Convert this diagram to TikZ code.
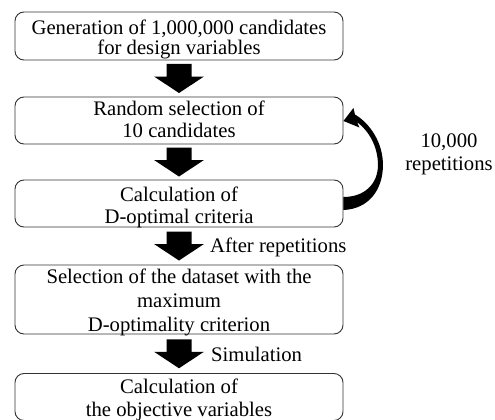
\documentclass[tikz,border=0pt]{standalone}
\usepackage{fontspec}
\setmainfont{Liberation Serif}
\usetikzlibrary{calc}
\newcommand\blockarrowdown[1]{\fill[black] #1 ++(-12.5,-14.5) -- ++(25,0) -- ++(0,12.5) -- ++(12.5,0) -- ++(-25,16.5) -- ++(-25,-16.5) -- ++(12.5,0) -- cycle;}
\begin{document}
\begin{tikzpicture}[x=1pt,y=-1pt,
  box/.style={draw=black!80, line width=0.9pt, rounded corners=9pt, minimum width=328pt, inner sep=0pt},
  txt/.style={anchor=base, inner sep=0pt, font=\fontsize{20.7}{24}\selectfont},
  lbl/.style={anchor=base west, inner sep=0pt, font=\fontsize{20.7}{24}\selectfont}]
\useasboundingbox (0,0) rectangle (495,420);
% boxes
\node[box, minimum height=48pt] (b1) at (179,36) {};
\node[box, minimum height=47pt] (b2) at (179,120.5) {};
\node[box, minimum height=47pt] (b3) at (179,203.5) {};
\node[box, minimum height=69pt] (b4) at (179,299.5) {};
\node[box, minimum height=47pt] (b5) at (179,397) {};
% texts
\node[txt] (t1a) at (179,35) {Generation of 1,000,000 candidates};
\node[txt] (t1b) at (179,55) {for design variables};
\node[txt] (t2a) at (179,115) {Random selection of};
\node[txt] (t2b) at (179,137.3) {10 candidates};
\node[txt] (t3a) at (179,201.7) {Calculation of};
\node[txt] (t3b) at (179,223.3) {D-optimal criteria};
\node[txt] (t4a) at (179,283.3) {Selection of the dataset with the};
\node[txt] (t4b) at (179,307.7) {maximum};
\node[txt] (t4c) at (179,331.7) {D-optimality criterion};
\node[txt] (t5a) at (179,393.3) {Calculation of};
\node[txt] (t5b) at (179,416.7) {the objective variables};
% block arrows
\blockarrowdown{($(b1.south)!0.5!(b2.north)$)}
\blockarrowdown{($(b2.south)!0.5!(b3.north)$)}
\blockarrowdown{($(b3.south)!0.5!(b4.north)$)}
\blockarrowdown{($(b4.south)!0.5!(b5.north)$)}
% labels
\node[lbl] (l3) at (210,252.3) {After repetitions};
\node[lbl] (l4) at (211,361.7) {Simulation};
\node[txt] (r1) at (449,147.3) {10,000};
\node[txt] (r2) at (449,170) {repetitions};
% curved loop arrow
\fill[black] ($(b3.east)+(0,6.5)$) .. controls ($(b3.east)+(25,5.5)$) and ($(b3.east)+(39.5,-13.5)$) .. ($(b3.east)+(39.5,-38.5)$)
  .. controls ($(b2.east)+(39.5,21.5)$) and ($(b2.east)+(26,2.5)$) .. ($(b2.east)+(11.5,-6)$)
  -- ($(b2.east)+(10,-12.5)$) -- ($(b2.east)+(0,0.5)$) -- ($(b2.east)+(16,7)$) -- ($(b2.east)+(13.5,1.5)$)
  .. controls ($(b2.east)+(25,10)$) and ($(b2.east)+(34.5,25.5)$) .. ($(b2.east)+(34.5,44.5)$)
  .. controls ($(b3.east)+(34.5,-19.5)$) and ($(b3.east)+(21,-6.5)$) .. ($(b3.east)+(0,-6.5)$) -- cycle;
\end{tikzpicture}
\end{document}
